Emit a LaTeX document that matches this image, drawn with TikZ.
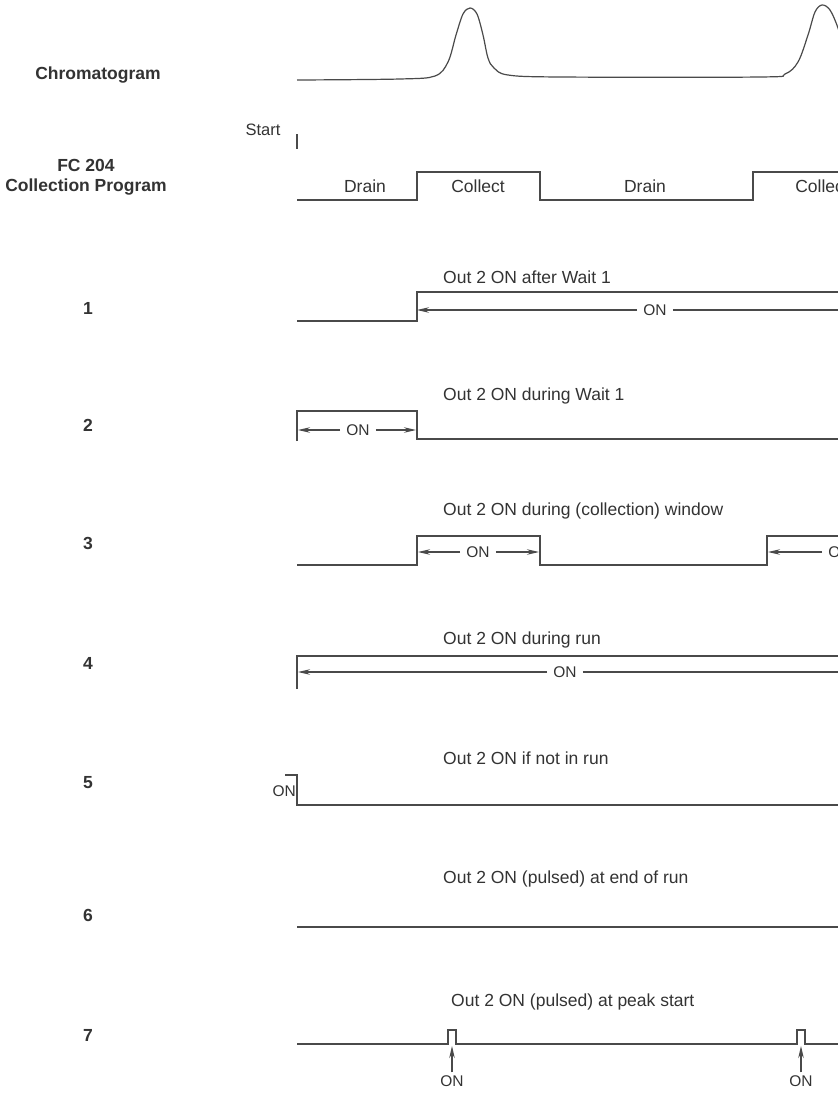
\documentclass[tikz,border=0pt]{standalone}
\usepackage{fontspec}
\setmainfont{Liberation Sans}
\usetikzlibrary{arrows.meta}
\definecolor{cLine}{HTML}{4a4a4a}
\definecolor{cText}{HTML}{333333}

\tikzset{
  wave/.style={cLine,line width=1.5pt,line join=miter},
  onarrow/.style={cLine,line width=1.2pt,-{Stealth[length=12pt,width=5.5pt]}},
  lbl/.style={font=\fontsize{17.5}{20.5}\selectfont\bfseries,text=cText,align=center,inner sep=0pt},
  ttl/.style={text=cText,anchor=west,inner sep=0pt},
  onlbl/.style={font=\fontsize{15.5}{18}\selectfont,text=cText,inner sep=6pt},
}

\begin{document}
\begin{tikzpicture}[x=1pt,y=-1pt,font=\fontsize{17.5}{20}\selectfont]
  \fill[white] (0,0) rectangle (838,1093);
  \useasboundingbox (0,0) rectangle (838,1093);

  % left column
  \node[lbl] (chrom) at (98,75) {Chromatogram};
  \node[lbl] (fc) at (86,177) {FC 204\\Collection Program};
  \foreach \n/\yy in {1/308,2/425,3/543,4/663,5/783,6/915,7/1035}
    \node[lbl] (num\n) at (88,\yy) {\n};

  % row titles
  \foreach \n/\xx/\yy/\txt in {1/443/277/Out 2 ON after Wait 1,
      2/443/396/Out 2 ON during Wait 1,
      3/443/511/Out 2 ON during (collection) window,
      4/443/640/Out 2 ON during run,
      5/443/758/Out 2 ON if not in run,
      6/443/879/Out 2 ON (pulsed) at end of run,
      7/451/1002/Out 2 ON (pulsed) at peak start}
    \node[ttl] (ttl\n) at (\xx,\yy) {\txt};

  % chromatogram
  \draw[cLine,line width=1.2pt] plot[smooth,tension=0.55] coordinates {
    (297,80) (400,79) (435,76) (448,62) (456,35) (463,14) (470,8) (477,14)
    (483,35) (488,58) (494,68) (508,75) (560,77) (760,77) (785,74) (798,62)
    (808,35) (815,12) (822,5) (830,10) (838,28) (846,55)};

  % collection program
  \node[text=cText,font=\fontsize{16.5}{18}\selectfont] (start) at (263,130) {Start};
  \draw[cLine,line width=1.2pt] (297,134) -- (297,149);
  \draw[wave] (297,200) -- (417,200) -- (417,172) -- (540,172) -- (540,200)
    -- (753,200) -- (753,172) -- (850,172);
  \foreach \xx/\txt [count=\k] in {365/Drain,478/Collect,645/Drain,822/Collect}
    \node[text=cText] (seg\k) at (\xx,186) {\txt};

  % 1: after wait 1
  \draw[wave] (297,321) -- (417,321) -- (417,292) -- (850,292);
  \node[onlbl] (on1) at (655,310) {ON};
  \coordinate (e1) at (417,310);
  \draw[onarrow] (on1) -- (e1);
  \draw[cLine,line width=1.2pt] (on1.east) -- (850,310);

  % 2: during wait 1
  \draw[wave] (297,441) -- (297,411) -- (417,411) -- (417,439) -- (850,439);
  \node[onlbl] (on2) at (358,430) {ON};
  \coordinate (e2a) at (298,430);
  \coordinate (e2b) at (416,430);
  \draw[onarrow] (on2) -- (e2a);
  \draw[onarrow] (on2) -- (e2b);

  % 3: during window
  \draw[wave] (297,565) -- (417,565) -- (417,536) -- (540,536) -- (540,565)
    -- (767,565) -- (767,536) -- (850,536);
  \node[onlbl] (on3a) at (478,552) {ON};
  \node[onlbl] (on3b) at (840,552) {ON};
  \coordinate (e3a) at (418,552);
  \coordinate (e3b) at (539,552);
  \coordinate (e3c) at (768,552);
  \draw[onarrow] (on3a) -- (e3a);
  \draw[onarrow] (on3a) -- (e3b);
  \draw[onarrow] (on3b) -- (e3c);

  % 4: during run
  \draw[wave] (297,689) -- (297,656) -- (850,656);
  \node[onlbl] (on4) at (565,672) {ON};
  \coordinate (e4) at (298,672);
  \draw[onarrow] (on4) -- (e4);
  \draw[cLine,line width=1.2pt] (on4.east) -- (850,672);

  % 5: not in run
  \node[onlbl,inner sep=0pt,anchor=east] (on5) at (296,791) {ON};
  \draw[wave] (285,775) -- (297,775) -- (297,805) -- (850,805);

  % 6: end of run
  \draw[wave] (297,927) -- (850,927);

  % 7: peak start
  \draw[wave] (297,1044) -- (448,1044) -- (448,1030) -- (456,1030) -- (456,1044)
    -- (797,1044) -- (797,1030) -- (805,1030) -- (805,1044) -- (850,1044);
  \foreach \xx [count=\k] in {452,801} {
    \node[onlbl,inner sep=3pt] (on7\k) at (\xx,1081) {ON};
    \coordinate (e7\k) at (\xx,1046);
    \draw[onarrow] (on7\k) -- (e7\k);
  }
\end{tikzpicture}
\end{document}
